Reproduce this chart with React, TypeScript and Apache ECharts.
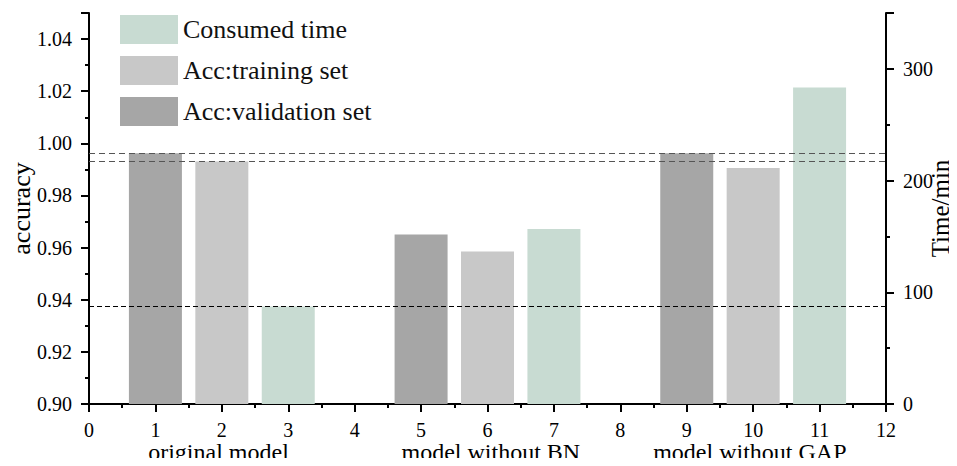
import React, { useEffect, useRef } from "react";
import * as echarts from "echarts";

const xValidation = [1, 5, 9];
const accValidation = [0.9962, 0.965, 0.9962];
const xTraining = [2, 6, 10];
const accTraining = [0.993, 0.9585, 0.9905];
const xTime = [3, 7, 11];
const timeValues = [87.3, 156.7, 283.4];
const groupCenters = [1.95, 6.05, 9.95];
const groupLabels = ["original model", "model without BN", "model without GAP"];
const legendOrder = ["Consumed time", "Acc:training set", "Acc:validation set"];

const FONT = "Liberation Serif";

export default function App() {
  const ref = useRef<HTMLDivElement>(null);
  useEffect(() => {
    if (!ref.current) return;
    const chart = echarts.init(ref.current, null, { renderer: "svg" });
    const axisLine = { show: true, lineStyle: { color: "#000", width: 2 } };
    const tick = { show: true, length: 8, lineStyle: { width: 2, color: "#000" } };
    const minor = { show: true, splitNumber: 2, length: 4, lineStyle: { width: 2, color: "#000" } };
    const barW = 53;
    const mk = (value: number, color: string, dash: number[], width: number) => ({
      silent: true,
      symbol: "none",
      precision: 4,
      label: { show: false },
      lineStyle: { color, type: dash, width },
      data: [{ yAxis: value }],
    });
    chart.setOption({
      animation: false,
      textStyle: { fontFamily: FONT },
      grid: { left: 89, right: 71, top: 13, bottom: 62, outerBoundsMode: "none", containLabel: false },
      legend: {
        data: legendOrder,
        orient: "vertical",
        left: 115,
        top: 10,
        itemWidth: 58,
        itemHeight: 29,
        itemGap: 12,
        icon: "rect",
        textStyle: { fontFamily: FONT, fontSize: 26, color: "#111" },
      },
      xAxis: {
        type: "value",
        min: 0,
        max: 12,
        interval: 1,
        splitLine: { show: false },
        axisLine,
        axisTick: tick,
        minorTick: minor,
        axisLabel: {
          margin: 16,
          color: "#000",
          fontFamily: FONT,
          fontSize: 20,
        },
      },
      yAxis: [
        {
          type: "value",
          min: 0.9,
          max: 1.05,
          interval: 0.02,
          name: "accuracy",
          nameLocation: "middle",
          nameGap: 55,
          nameMoveOverlap: false,
          nameTextStyle: { fontFamily: FONT, fontSize: 26, color: "#000" },
          splitLine: { show: false },
          axisLine,
          axisTick: tick,
          minorTick: minor,
          axisLabel: {
            margin: 17,
            color: "#000",
            fontFamily: FONT,
            fontSize: 20,
            formatter: (v: number) => (Math.abs(v - 1.05) < 1e-9 ? "" : v.toFixed(2)),
          },
        },
        {
          type: "value",
          position: "right",
          min: 0,
          max: 350,
          interval: 100,
          name: "Time/min",
          nameLocation: "middle",
          nameGap: 42,
          nameRotate: 90,
          nameMoveOverlap: false,
          nameTextStyle: { fontFamily: FONT, fontSize: 25, color: "#000" },
          splitLine: { show: false },
          axisLine,
          axisTick: tick,
          minorTick: minor,
          axisLabel: {
            margin: 17,
            color: "#000",
            fontFamily: FONT,
            fontSize: 20,
            formatter: (v: number) => (v === 350 ? "" : `${v}`),
          },
        },
      ],
      series: [
        {
          name: "Acc:validation set",
          type: "bar",
          barWidth: barW,
          barGap: "-100%",
          itemStyle: { color: "#a6a6a6" },
          data: xValidation.map((x, i) => [x, accValidation[i]]),
          markLine: mk(accValidation[0], "#555", [6, 4], 1.2),
        },
        {
          name: "Acc:training set",
          type: "bar",
          barWidth: barW,
          barGap: "-100%",
          itemStyle: { color: "#c8c8c8" },
          data: xTraining.map((x, i) => [x, accTraining[i]]),
          markLine: mk(accTraining[0], "#555", [6, 4], 1.2),
        },
        {
          name: "Consumed time",
          type: "bar",
          yAxisIndex: 1,
          barWidth: barW,
          barGap: "-100%",
          itemStyle: { color: "#c8dbd2" },
          data: xTime.map((x, i) => [x, timeValues[i]]),
          markLine: mk(timeValues[0], "#000", [5, 3], 1),
        },
      ],
    });
    const yBase = chart.convertToPixel({ yAxisIndex: 0 }, 0.9) as number;
    chart.setOption({
      graphic: groupLabels.map((t, i) => ({
        type: "text",
        x: chart.convertToPixel({ xAxisIndex: 0 }, groupCenters[i]) as number,
        y: yBase + 48,
        style: {
          text: t,
          fontFamily: FONT,
          fontSize: 24,
          fill: "#000",
          align: "center",
          verticalAlign: "middle",
        },
      })),
    });
    return () => chart.dispose();
  }, []);
  return <div ref={ref} style={{ width: 957, height: 466, margin: -8 }} />;
}
